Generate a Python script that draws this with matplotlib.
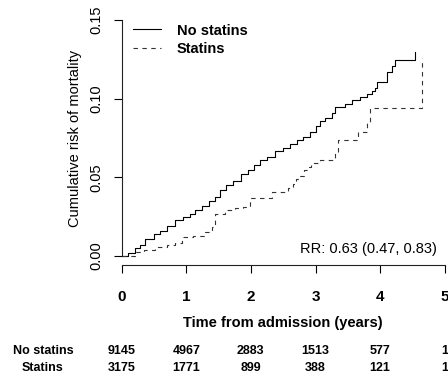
import matplotlib
matplotlib.use("Agg")
import matplotlib.pyplot as plt
from matplotlib.transforms import blended_transform_factory

# ---- data ----
t_nostatin = [0.0, 0.05, 0.10, 0.20, 0.28, 0.36, 0.50, 0.60, 0.70, 0.83, 0.95, 1.05,
              1.13, 1.25, 1.35, 1.44, 1.52, 1.62, 1.72, 1.85, 1.95, 2.05, 2.14,
              2.25, 2.37, 2.50, 2.60, 2.71, 2.80, 2.91, 3.00, 3.07, 3.15, 3.26,
              3.30, 3.45, 3.56, 3.69, 3.80, 3.88, 3.92, 3.95, 4.10, 4.18, 4.23, 4.54]
r_nostatin = [0.0, 0.0, 0.002, 0.005, 0.007, 0.011, 0.014, 0.016, 0.019, 0.023, 0.025,
              0.027, 0.029, 0.032, 0.035, 0.0375, 0.042, 0.045, 0.048, 0.052, 0.055,
              0.058, 0.061, 0.063, 0.067, 0.069, 0.071, 0.074, 0.076, 0.079, 0.083,
              0.086, 0.088, 0.091, 0.095, 0.097, 0.099, 0.101, 0.103, 0.105, 0.107,
              0.1105, 0.117, 0.121, 0.125, 0.1295]

t_statin = [0.0, 0.05, 0.20, 0.35, 0.52, 0.70, 0.83, 0.93, 1.10, 1.29, 1.40, 1.44,
            1.60, 1.75, 1.88, 1.99, 2.33, 2.58, 2.65, 2.70, 2.76, 2.82, 2.88, 2.93,
            3.07, 3.30, 3.35, 3.66, 3.80, 3.84, 4.65]
r_statin = [0.0, 0.0, 0.0025, 0.004, 0.0057, 0.007, 0.0083, 0.012, 0.013, 0.015,
            0.0184, 0.027, 0.029, 0.0305, 0.031, 0.037, 0.041, 0.043, 0.046, 0.049,
            0.051, 0.055, 0.0565, 0.059, 0.061, 0.066, 0.0737, 0.079, 0.085, 0.094,
            0.1257]

groups = ["No statins", "Statins"]
risk_times = [0, 1, 2, 3, 4, 5]
at_risk_nostatin = [9145, 4967, 2883, 1513, 577, 1]
at_risk_statin = [3175, 1771, 899, 388, 121, 1]
rr_text = "RR: 0.63 (0.47, 0.83)"

xticks = [0, 1, 2, 3, 4, 5]
yticks = [0.00, 0.05, 0.10, 0.15]
ytick_labels = ["0.00", "0.05", "0.10", "0.15"]

# ---- figure ----
plt.rcParams['font.family'] = ['Liberation Sans', 'DejaVu Sans']
fig = plt.figure(figsize=(4.48, 3.80), dpi=100)
ax = fig.add_axes([0.2717, 0.3016, 0.721, 0.670])

ax.plot(t_nostatin, r_nostatin, drawstyle='steps-post', color='black', lw=0.8,
        label=groups[0])
ax.plot(t_statin, r_statin, drawstyle='steps-post', color='#333333', lw=0.8,
        linestyle=(0, (4, 4)), label=groups[1])

ax.set_xlim(0, 5)
ax.set_ylim(-0.006, 0.156)
ax.spines['top'].set_visible(False)
ax.spines['right'].set_visible(False)
ax.spines['left'].set_bounds(0, 0.15)
ax.spines['bottom'].set_bounds(0, 5)
for s in ('left', 'bottom'):
    ax.spines[s].set_linewidth(0.8)
    ax.spines[s].set_color('#222222')

ax.set_xticks(xticks)
ax.set_xticklabels([str(x) for x in xticks], fontweight='bold', fontsize=11)
ax.set_yticks(yticks)
ax.set_yticklabels(ytick_labels, fontsize=10.5, rotation=90, va='center')
ax.tick_params(axis='x', length=5.5, width=0.8, pad=12)
ax.tick_params(axis='y', length=5.5, width=0.8, pad=8)

ax.set_xlabel("Time from admission (years)", fontweight='bold', fontsize=10.5,
              labelpad=9)
ax.set_ylabel("Cumulative risk of mortality", fontsize=10.5, labelpad=5)

leg = ax.legend(loc='upper left', bbox_to_anchor=(0.035, 0.95), frameon=False,
                prop={'weight': 'bold', 'size': 10.5}, handlelength=1.9,
                handletextpad=1.1, labelspacing=0.3, borderaxespad=0,
                borderpad=0)

ax.text(0.976, 0.064, rr_text, transform=ax.transAxes, ha='right', va='center',
        fontsize=10.5)

# risk table
tr = blended_transform_factory(ax.transData, fig.transFigure)
rows_y = [1 - 350.7 / 380, 1 - 367.7 / 380]
for label, counts, yy in zip(groups, [at_risk_nostatin, at_risk_statin], rows_y):
    fig.text(43 / 448, yy, label, ha='center', va='center', fontweight='bold',
             fontsize=9)
    for tt, c in zip(risk_times, counts):
        ax.text(tt, yy, str(c), transform=tr, ha='center', va='center',
                fontweight='bold', fontsize=9, clip_on=False)

fig.savefig("out.png", dpi=100)
